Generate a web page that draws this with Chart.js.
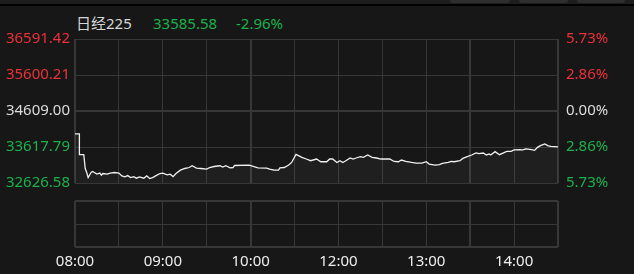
<!DOCTYPE html>
<html>
<head>
<meta charset="utf-8">
<script src="https://cdn.jsdelivr.net/npm/chart.js@4.4.0/dist/chart.umd.min.js"></script>
<style>
  body { margin: 0; background: #171717; width: 634px; height: 274px; overflow: hidden; position: relative;
         font-family: "Noto Sans", "Noto Sans CJK SC", sans-serif; }
  #topbar { position: absolute; left: 0; top: 0; width: 634px; height: 4px; background: #1d1d1d; }
  #topline { position: absolute; left: 0; top: 4px; width: 634px; height: 2px; background: #000; }
  .tab { position: absolute; top: 0; height: 3px; background: #2e2e2e; border-radius: 0 0 4px 4px; }
  #header { position: absolute; top: 14px; left: 76px; font-size: 15px; line-height: 18px; white-space: nowrap; }
  #header span { position: absolute; top: 0; }
  canvas { position: absolute; left: 0; }
</style>
</head>
<body>
<div id="topbar"></div>
<div class="tab" style="left:450px;width:60px"></div>
<div class="tab" style="left:519px;width:49px"></div>
<div class="tab" style="left:577px;width:48px"></div>
<div id="topline"></div>
<div id="header">
  <span style="left:0;color:#d6d6d6">日经225</span>
  <span style="left:77px;color:#1bb24b">33585.58</span>
  <span style="left:160px;color:#1bb24b">-2.96%</span>
</div>
<canvas id="main" width="634" height="200" style="top:0"></canvas>
<canvas id="vol" width="634" height="84" style="top:190px"></canvas>
<script>
// trading minutes from 08:00 (lunch break removed)
const lineMinutes = [0, 3, 3, 6, 7, 8, 9, 11, 12, 15, 17, 18, 19, 22, 24, 27, 30, 32, 34, 36,
    38, 40, 42, 44, 47, 49, 51, 53, 56, 58, 60, 63, 65, 67, 69, 72, 75, 78, 80, 83,
    86, 90, 92, 95, 99, 101, 103, 106, 108, 109, 119, 125, 131, 133, 136, 139, 140, 143, 146, 148,
    151, 155, 158, 161, 165, 168, 172, 174, 176, 179, 181, 183, 185, 188, 190, 192, 195, 197, 200, 203,
    206, 209, 215, 218, 221, 223, 226, 230, 233, 237, 240, 242, 246, 249, 251, 255, 257, 259, 263, 265,
    268, 271, 274, 276, 279, 281, 283, 284, 287, 290, 292, 295, 298, 300, 304, 306, 308, 312, 314, 316,
    318, 321, 323, 325, 330];
const linePrices = [33981, 33981, 33406, 33406, 33026, 32915, 32776, 32915, 32942, 32870, 32898, 32842, 32887, 32870, 32898, 32915, 32898, 32823, 32795, 32830,
    32776, 32803, 32759, 32795, 32759, 32823, 32748, 32776, 32842, 32887, 32898, 32851, 32870, 32803, 32887, 32981, 33026, 33053, 33101, 33037,
    33026, 33009, 33053, 33081, 33101, 33064, 33101, 33045, 33053, 33109, 33120, 33045, 33037, 33009, 32981, 32981, 33045, 33053, 33120, 33192,
    33414, 33331, 33287, 33240, 33287, 33212, 33212, 33287, 33287, 33192, 33240, 33192, 33240, 33315, 33287, 33315, 33351, 33331, 33398, 33331,
    33315, 33287, 33287, 33220, 33212, 33259, 33220, 33192, 33176, 33176, 33212, 33148, 33120, 33130, 33165, 33192, 33220, 33212, 33240, 33304,
    33351, 33398, 33453, 33434, 33453, 33398, 33425, 33398, 33490, 33406, 33443, 33498, 33498, 33537, 33546, 33537, 33565, 33546, 33526, 33609,
    33656, 33703, 33656, 33637, 33620];

const priceTicks = [32626.58, 33617.79, 34609.00, 35600.21, 36591.42];
const pctLabels = ['5.73%', '2.86%', '0.00%', '2.86%', '5.73%'];
const gridMinutes = [0, 30, 60, 90, 120, 150, 180, 210, 240, 270, 300, 330];
const thickMinutes = [0, 120, 270, 330];
const timeTicks = [0, 60, 120, 180, 240, 300];
const timeLabels = ['08:00', '09:00', '10:00', '12:00', '13:00', '14:00'];

const RED = '#ec3138';
const GREEN = '#1bb24b';
const tickColors = [GREEN, GREEN, '#dcdcdc', RED, RED];
const gridColor = '#373737';
const labelFont = { family: '"Noto Sans", sans-serif', size: 15 };

function minuteGrid(s) {
    s.ticks = gridMinutes.map(v => ({ value: v }));
}

new Chart(document.getElementById('main'), {
    type: 'line',
    data: {
        datasets: [{
            data: lineMinutes.map((m, i) => ({ x: m, y: linePrices[i] })),
            borderColor: '#f0f0f0',
            borderWidth: 1.3,
            pointRadius: 0,
            tension: 0,
            fill: 'start',
            backgroundColor: 'rgba(255,255,255,0.035)'
        }]
    },
    options: {
        responsive: false,
        animation: false,
        events: [],
        layout: { padding: { top: 39, bottom: 17 } },
        plugins: { legend: { display: false }, tooltip: { enabled: false } },
        scales: {
            x: {
                type: 'linear', min: 0, max: 330,
                afterBuildTicks: minuteGrid,
                afterFit: s => { s.height = 0; },
                ticks: { display: false },
                grid: { color: gridColor, drawTicks: false,
                    lineWidth: ctx => thickMinutes.includes(ctx.tick.value) ? 2 : 1 },
                border: { display: false }
            },
            y: {
                position: 'left',
                min: priceTicks[0], max: priceTicks[4],
                afterBuildTicks: s => { s.ticks = priceTicks.map(v => ({ value: v })); },
                afterFit: s => { s.width = 75; },
                ticks: { color: ctx => tickColors[ctx.index], font: labelFont, padding: 5,
                    callback: (v, i) => priceTicks[i].toFixed(2) },
                grid: { color: gridColor, drawTicks: false,
                    lineWidth: ctx => ctx.index === 2 ? 2 : 1 },
                border: { display: false }
            },
            y2: {
                position: 'right',
                min: priceTicks[0], max: priceTicks[4],
                afterBuildTicks: s => { s.ticks = priceTicks.map(v => ({ value: v })); },
                afterFit: s => { s.width = 76; },
                ticks: { color: ctx => tickColors[ctx.index], font: labelFont, padding: 8,
                    callback: (v, i) => pctLabels[i] },
                grid: { display: false, drawTicks: false },
                border: { display: false }
            }
        }
    }
});

// empty lower panel, only the grid and the time axis
new Chart(document.getElementById('vol'), {
    type: 'line',
    data: { datasets: [] },
    options: {
        responsive: false,
        animation: false,
        events: [],
        layout: { padding: { top: 11, right: 76 } },
        plugins: { legend: { display: false }, tooltip: { enabled: false } },
        scales: {
            x: {
                type: 'linear', min: 0, max: 330,
                afterBuildTicks: minuteGrid,
                afterFit: s => { s.height = 27; },
                ticks: { color: '#eeeeee', font: labelFont, padding: 6, autoSkip: false, maxRotation: 0,
                    callback: v => { const i = timeTicks.indexOf(v); return i < 0 ? '' : timeLabels[i]; } },
                grid: { color: gridColor, drawTicks: false,
                    lineWidth: ctx => thickMinutes.includes(ctx.tick.value) ? 2 : 1 },
                border: { display: false }
            },
            y: {
                min: 0, max: 2,
                afterBuildTicks: s => { s.ticks = [0, 1, 2].map(v => ({ value: v })); },
                afterFit: s => { s.width = 75; },
                ticks: { display: false },
                grid: { color: gridColor, drawTicks: false,
                    lineWidth: ctx => ctx.index === 1 ? 1 : 2 },
                border: { display: false }
            }
        }
    }
});
</script>
</body>
</html>
